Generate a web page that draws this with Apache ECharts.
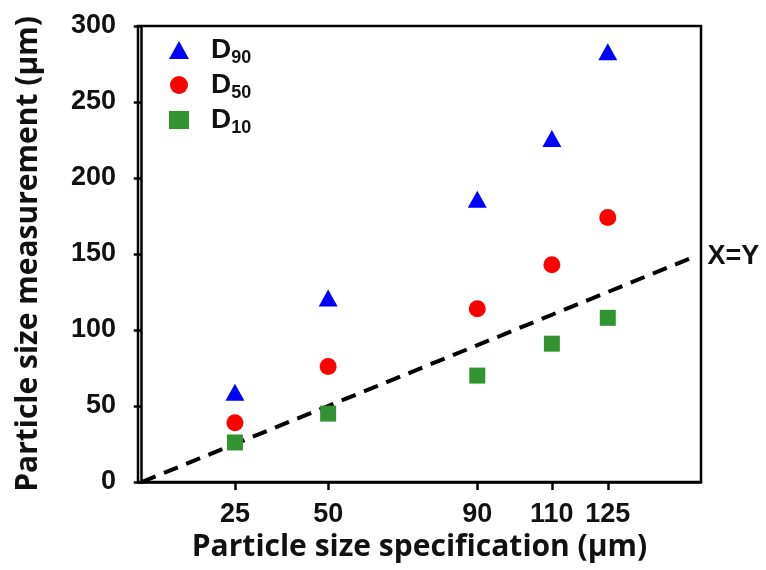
<!DOCTYPE html>
<html><head><meta charset="utf-8">
<script src="https://cdn.jsdelivr.net/npm/echarts@6/dist/echarts.min.js"></script>
<style>html,body{margin:0;padding:0;background:#fff}#c{width:766px;height:570px}</style>
</head><body><div id="c"></div>
<script>
const specs = [25, 50, 90, 110, 125];
const d90 = [59, 121, 186, 226, 283];
const d50 = [39, 76, 114, 143, 174];
const d10 = [26, 45, 70, 91, 108];
const xTickValues = [25, 50, 90, 110, 125];
const identityLine = [[0, 0], [148, 148]];
const seriesNames = ['D90', 'D50', 'D10'];

const pairs = ys => specs.map((x, i) => [x, ys[i]]);
const tickFont = { fontFamily: 'Liberation Sans', fontWeight: 'bold', fontSize: 27, color: '#111' };
const nameFont = { fontFamily: 'Open Sans', fontWeight: 'bold', fontSize: 30, color: '#111' };

const chart = echarts.init(document.getElementById('c'), null, { renderer: 'canvas' });
chart.setOption({
  animation: false,
  backgroundColor: '#fff',
  grid: { left: 138, right: 65, top: 26, bottom: 88, show: true, borderColor: '#000', borderWidth: 2.5, containLabel: false },
  legend: {
    orient: 'vertical', left: 164, top: 31, itemWidth: 20, itemHeight: 18, itemGap: 4,
    data: seriesNames,
    formatter: n => '{d|D}{s|' + n.slice(1) + '}',
    textStyle: {
      rich: {
        d: { fontFamily: 'Liberation Sans', fontWeight: 'bold', fontSize: 28, color: '#111', padding: [0, 0, 0, 17] },
        s: { fontFamily: 'Liberation Sans', fontWeight: 'bold', fontSize: 18, color: '#111', padding: [16, 0, 0, 0] }
      }
    }
  },
  xAxis: {
    type: 'value', min: -1, max: 150,
    name: 'Particle size specification (μm)', nameLocation: 'middle', nameGap: 50,
    nameTextStyle: nameFont,
    splitLine: { show: false },
    axisLine: { lineStyle: { color: '#000', width: 2.5 } },
    axisTick: { customValues: xTickValues, length: 8, lineStyle: { color: '#000', width: 2.5 } },
    axisLabel: Object.assign({ customValues: xTickValues, margin: 19 }, tickFont)
  },
  yAxis: {
    type: 'value', min: 0, max: 300, interval: 50,
    name: 'Particle size measurement (μm)', nameLocation: 'middle', nameGap: 95,
    nameTextStyle: nameFont,
    splitLine: { show: false },
    axisLine: { lineStyle: { color: '#000', width: 2.5 } },
    axisTick: { length: 8, lineStyle: { color: '#000', width: 2.5 } },
    axisLabel: Object.assign({ margin: 22 }, tickFont)
  },
  series: [
    { name: 'D90', type: 'scatter', symbol: 'triangle', symbolSize: [19, 17], itemStyle: { color: '#0000ff', opacity: 1 }, data: pairs(d90), z: 3 },
    { name: 'D50', type: 'scatter', symbol: 'circle', symbolSize: 17, itemStyle: { color: '#ff0000', opacity: 1 }, data: pairs(d50), z: 3 },
    { name: 'D10', type: 'scatter', symbol: 'rect', symbolSize: 16, itemStyle: { color: '#319431', opacity: 1 }, data: pairs(d10), z: 3 },
    {
      name: 'X=Y', type: 'line', data: identityLine, showSymbol: false, symbol: 'none', silent: true, z: 2,
      lineStyle: { color: '#000', width: 4, type: [15, 9] },
      endLabel: { show: true, formatter: 'X=Y', distance: 14, fontFamily: 'Liberation Sans', fontWeight: 'bold', fontSize: 27, color: '#111' }
    }
  ]
});
</script></body></html>
